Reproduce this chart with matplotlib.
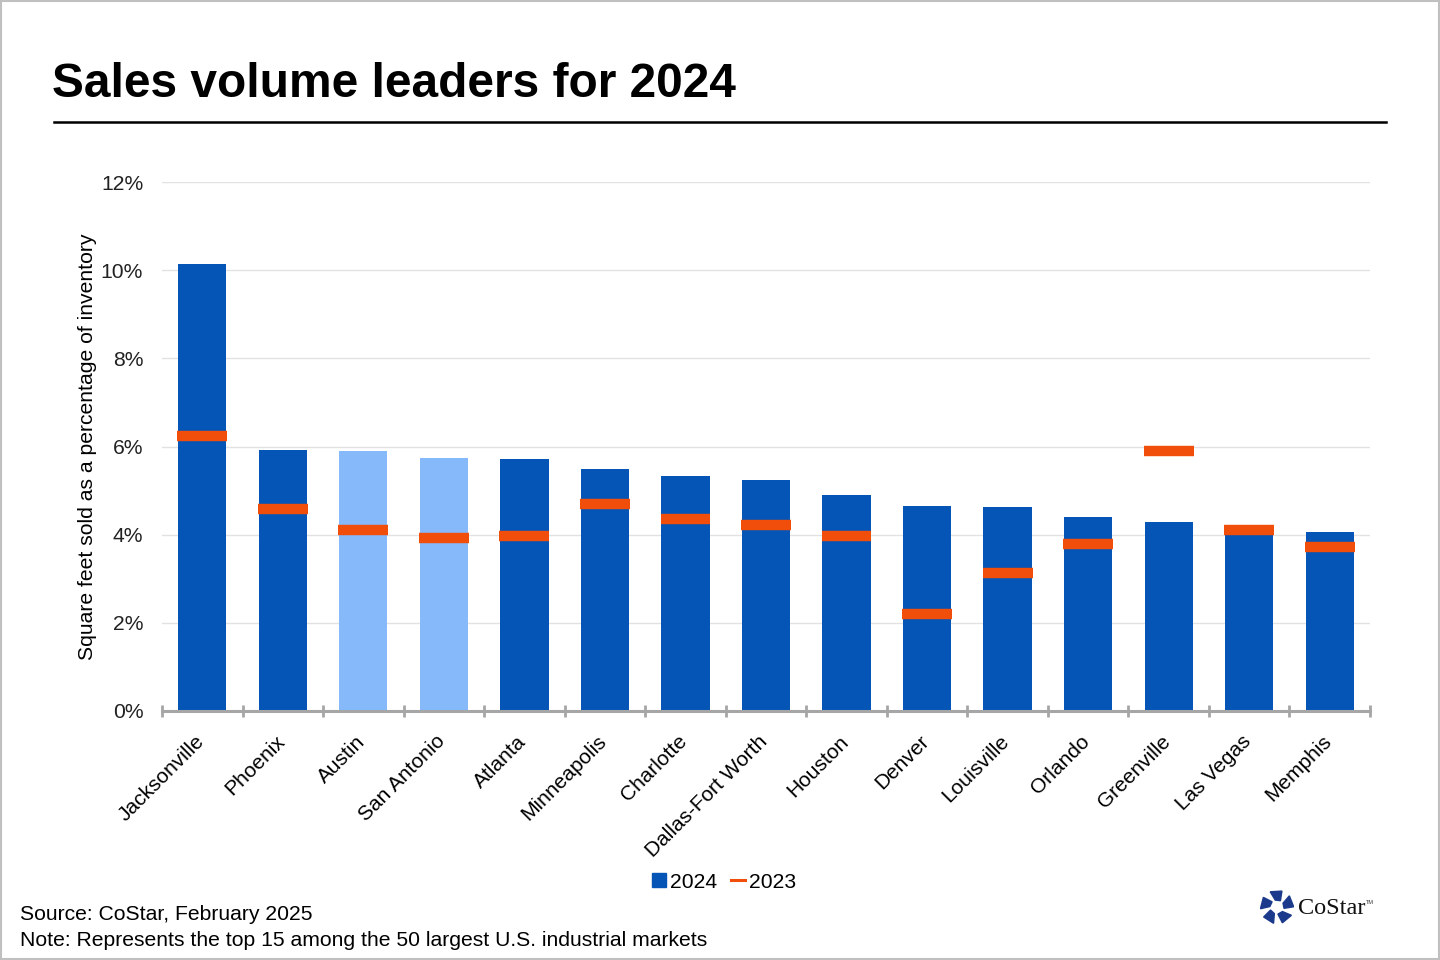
import matplotlib
matplotlib.use("Agg")
import matplotlib.pyplot as plt
from matplotlib.patches import Polygon, Rectangle
from matplotlib.lines import Line2D
import matplotlib.transforms as mtransforms
import numpy as np

plt.rcParams['font.family'] = ['Liberation Sans', 'DejaVu Sans']

markets = ["Jacksonville", "Phoenix", "Austin", "San Antonio", "Atlanta", "Minneapolis",
           "Charlotte", "Dallas-Fort Worth", "Houston", "Denver", "Louisville", "Orlando",
           "Greenville", "Las Vegas", "Memphis"]
sales_2024 = [10.14, 5.92, 5.90, 5.74, 5.72, 5.49, 5.33, 5.24, 4.90, 4.65, 4.63, 4.40, 4.29, 4.07, 4.06]
sales_2023 = [6.24, 4.58, 4.11, 3.92, 3.97, 4.70, 4.36, 4.22, 3.97, 2.20, 3.13, 3.79, 5.90, 4.11, 3.72]
highlight = ["Austin", "San Antonio"]
yticks = [0, 2, 4, 6, 8, 10, 12]

DARK = "#0455B5"
LIGHT = "#85B9FA"
ORANGE = "#F04E0A"

fig = plt.figure(figsize=(14.4, 9.6), dpi=100)
fig.patch.set_facecolor("white")

# border
fig.add_artist(Rectangle((0.0007, 0.001), 0.9986, 0.998, transform=fig.transFigure,
                         fill=False, edgecolor="#C0C0C0", linewidth=1.5))

ax = fig.add_axes([162/1440, 1-711/960, (1370-162)/1440, (711-182)/960])
x = np.arange(len(markets))
colors = [LIGHT if m in highlight else DARK for m in markets]
ax.bar(x, sales_2024, width=0.6, color=colors, zorder=2)
ax.hlines(sales_2023, x-0.31, x+0.31, colors=ORANGE, linewidth=7.5, zorder=3, capstyle='butt')

ax.set_xlim(-0.5, len(markets)-0.5)
ax.set_ylim(0, 12)
ax.set_yticks(yticks)
ax.set_yticklabels([f"{t}%" for t in yticks], fontsize=15.2)
ax.yaxis.grid(True, color="#E2E2E2", linewidth=1, zorder=0)
ax.set_axisbelow(True)
for s in ["top", "right", "left"]:
    ax.spines[s].set_visible(False)
ax.spines["bottom"].set_color("#A6A6A6")
ax.spines["bottom"].set_linewidth(2.2)
ax.spines["bottom"].set_zorder(4)
ax.tick_params(axis="y", length=0, pad=13.5, labelcolor="#222222")

ax.set_xticks(x)
ax.set_xticklabels(markets, rotation=45, ha="right", rotation_mode="anchor", fontsize=15)
ax.tick_params(axis="x", which="major", length=0, pad=15)
shift = mtransforms.ScaledTranslation(-8/100, 0, fig.dpi_scale_trans)
for lbl in ax.get_xticklabels():
    lbl.set_transform(lbl.get_transform() + shift)
ax.set_xticks(np.arange(-0.5, len(markets)), minor=True)
ax.tick_params(axis="x", which="minor", length=9, width=2, color="#A6A6A6", direction="inout")

ax.set_ylabel("Square feet sold as a percentage of inventory", fontsize=15.2, labelpad=2.6)

# title
fig.text(52/1440, 1-97/960, "Sales volume leaders for 2024", fontsize=34.5, fontweight="bold",
         ha="left", va="baseline")
fig.add_artist(Line2D([54/1440, 1386/1440], [1-122/960, 1-122/960], color="black", linewidth=1.8,
                      transform=fig.transFigure))

# legend
handles = [Rectangle((0, 0), 1, 1, color=DARK),
           Line2D([0], [0], color=ORANGE, linewidth=2.2)]
fig.legend(handles, ["2024", "2023"], loc="center", bbox_to_anchor=(724/1440, 1-882/960),
           ncol=2, frameon=False, fontsize=15.2, handlelength=0.65, handleheight=0.65,
           handletextpad=0.2, columnspacing=0.65)

# footer notes
fig.text(20/1440, 1-914/960, "Source: CoStar, February 2025", fontsize=15.2, ha="left", va="center")
fig.text(20/1440, 1-940/960, "Note: Represents the top 15 among the 50 largest U.S. industrial markets",
         fontsize=15.2, ha="left", va="center")

# logo
cx, cy = 1277, 907
logo_ax = fig.add_axes([(cx-17)/1440, 1-(cy+17)/960, 34/1440, 34/960])
logo_ax.set_xlim(-1, 1); logo_ax.set_ylim(-1, 1); logo_ax.axis("off")
for k in range(5):
    a = np.deg2rad(90 + 72*k)
    r1, r2 = 0.42, 0.98
    pts = []
    for ang, r in [(a-0.5, r1), (a+0.25, r1), (a+0.42, r2), (a-0.3, r2)]:
        pts.append((r*np.cos(ang), r*np.sin(ang)))
    logo_ax.add_patch(Polygon(pts, closed=True, color="#1B3A8C"))
fig.text(1298/1440, 1-908/960, "CoStar", fontsize=17.5, family=["Liberation Serif", "DejaVu Serif"],
         ha="left", va="center", color="#111111")
fig.text(1366/1440, 1-902/960, "TM", fontsize=4, ha="left", va="center", color="#333333")

fig.savefig("out.png", dpi=100, facecolor="white")
